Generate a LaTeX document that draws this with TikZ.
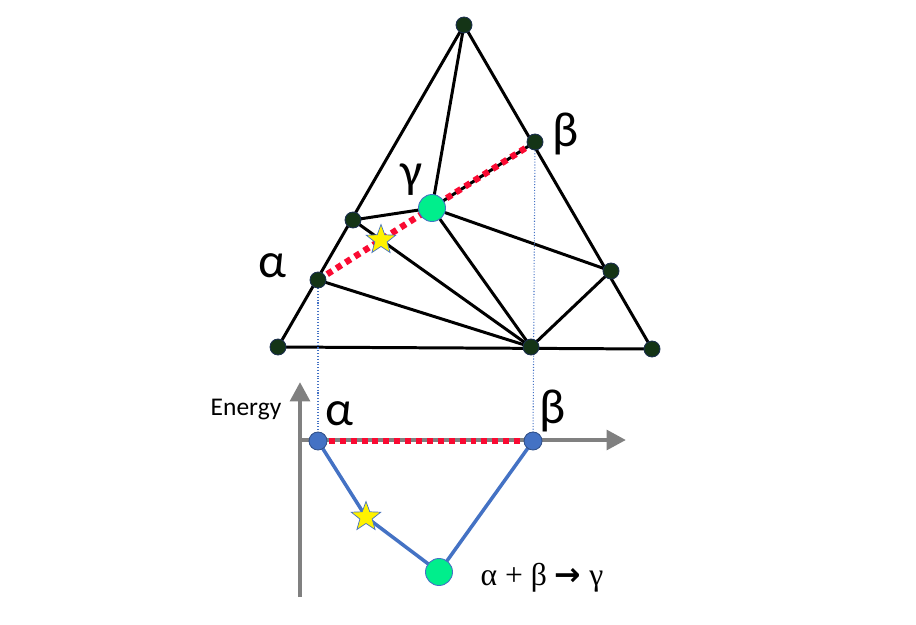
\documentclass[tikz,border=0pt]{standalone}
\usepackage{fontspec}
\setmainfont{Carlito}
\newfontfamily\arrowfont{DejaVu Sans}
\newfontfamily\reactfont{Liberation Serif}
\usetikzlibrary{arrows.meta}
\usetikzlibrary{shapes.geometric}
\usetikzlibrary{backgrounds}
\definecolor{phasegreen}{RGB}{20,52,22}
\definecolor{newgreen}{RGB}{0,238,140}
\definecolor{officeblue}{RGB}{68,114,196}
\definecolor{tieRed}{RGB}{250,10,50}

\begin{document}
\begin{tikzpicture}[x=0.02cm, y=-0.02cm,
    phase/.style={circle, draw=officeblue!40!black, fill=phasegreen, inner sep=0pt, minimum size=0.32cm, line width=0.5pt},
    compound/.style={circle, draw=officeblue, fill=newgreen, inner sep=0pt, minimum size=0.54cm, line width=0.5pt},
    endpoint/.style={circle, draw=officeblue!70!black, fill=officeblue, inner sep=0pt, minimum size=0.36cm, line width=0.5pt},
    mixture/.style={star, star points=5, star point ratio=2.4, draw=officeblue, fill=yellow, inner sep=0pt, minimum size=0.62cm, line width=0.4pt},
    edge/.style={black, line width=1.7pt},
    tie/.style={tieRed, line width=3.6pt, dash pattern=on 3.4pt off 2.8pt},
    hull/.style={officeblue, line width=2pt},
    guide/.style={officeblue, line width=0.6pt, densely dotted},
    axis/.style={gray, line width=2.6pt, -{Triangle[length=11pt, width=11pt]}},
    greek/.style={font=\fontsize{28}{30}\selectfont}]
  \useasboundingbox (0,0) rectangle (916,625);

  % ternary phase diagram
  \node[phase] (top) at (464,25) {};
  \node[phase] (beta) at (535,142) {};
  \node[compound] (gamma) at (432,208) {};
  \node[phase] (left) at (353,220) {};
  \node[phase] (alpha) at (318,280) {};
  \node[phase] (right) at (611,271) {};
  \node[phase] (bl) at (278,347) {};
  \node[phase] (bm) at (531,347) {};
  \node[phase] (br) at (652,349) {};
  \node[mixture] (mix) at (381,240) {};

  \node[greek] (lalpha) at (272,266) {α};
  \node[greek] (lbeta) at (566,134) {β};
  \node[greek] (lgamma) at (411,180) {γ};

  % energy plot
  \coordinate (orig) at (300,440);
  \coordinate (xend) at (626,440);
  \coordinate (ytop) at (300,382);
  \coordinate (ybot) at (300,597);
  \node[endpoint] (ealpha) at (318,441) {};
  \node[endpoint] (ebeta) at (533,441) {};
  \node[compound] (egamma) at (439,572) {};
  \node[mixture] (emix) at (366,517) {};

  \node[font=\fontsize{14.5}{16}\selectfont] (energy) at (246,410) {Energy};
  \node[greek] (elalpha) at (339,414) {α};
  \node[greek] (elbeta) at (553,411) {β};
  \node[font=\reactfont\fontsize{18}{20}\selectfont] (reaction) at (542,578) {α + β {\arrowfont\bfseries →} γ};

  \begin{scope}[on background layer]
    \draw[edge] (bl.center) -- (top.center) -- (br.center) -- (bl.center);
    \draw[edge] (top.center) -- (gamma.center);
    \draw[edge] (left.center) -- (gamma.center);
    \draw[edge] (gamma.center) -- (beta.center);
    \draw[edge] (left.center) -- (bm.center);
    \draw[edge] (alpha.center) -- (bm.center);
    \draw[edge] (gamma.center) -- (bm.center);
    \draw[edge] (gamma.center) -- (right.center);
    \draw[edge] (right.center) -- (bm.center);
    \draw[tie] (alpha.center) -- (beta.center);

    \draw[guide] (alpha.center) -- (ealpha.center);
    \draw[guide] (beta.center) -- (ebeta.center);

    \draw[axis] (orig) -- (xend);
    \draw[axis] (ybot) -- (ytop);
    \draw[tie] (ealpha.center) -- (ebeta.center);
    \draw[hull] (ealpha.center) -- (emix.center) -- (egamma.center) -- (ebeta.center);
  \end{scope}
\end{tikzpicture}
\end{document}
